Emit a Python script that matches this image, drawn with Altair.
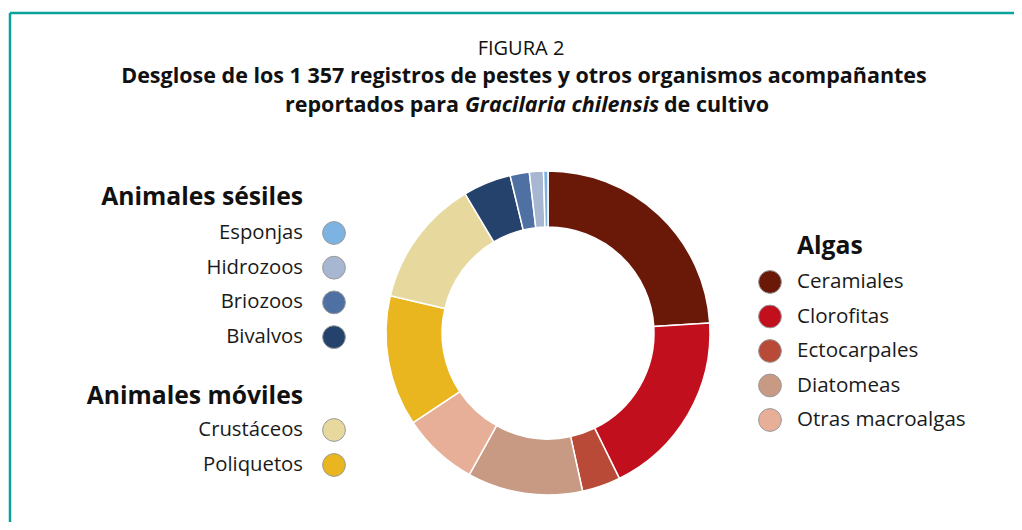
import altair as alt
import pandas as pd

# ---- data ----
categories = ["Ceramiales", "Clorofitas", "Ectocarpales", "Diatomeas", "Otras macroalgas",
              "Poliquetos", "Crustáceos", "Bivalvos", "Briozoos", "Hidrozoos", "Esponjas"]
counts = [326, 254, 52, 156, 103, 177, 173, 65, 26, 19, 6]
colors = ["#6a1808", "#c20f1d", "#b94a38", "#c99a83", "#e7af98",
          "#e9b61f", "#e7d99d", "#24426c", "#4f70a3", "#a8b7d1", "#7db3e3"]

sesiles = ["Esponjas", "Hidrozoos", "Briozoos", "Bivalvos"]
moviles = ["Crustáceos", "Poliquetos"]
algas = ["Ceramiales", "Clorofitas", "Ectocarpales", "Diatomeas", "Otras macroalgas"]
headers = ["Animales sésiles", "Animales móviles", "Algas"]

FONT = "Open Sans"
TEAL = "#0aa39a"

df = pd.DataFrame({"cat": categories, "count": counts, "idx": list(range(len(categories)))})
one = pd.DataFrame({"k": [0]})
color_scale = alt.Scale(domain=categories, range=colors)

# donut
donut = alt.Chart(df).mark_arc(innerRadius=106, outerRadius=162, stroke="white",
                               strokeWidth=1.5).encode(
    theta=alt.Theta("count:Q", stack=True),
    color=alt.Color("cat:N", scale=color_scale, legend=None),
    order=alt.Order("idx:Q"),
    x=alt.value(540), y=alt.value(325),
)

# legend rows (layout)
rows = []
for i, c in enumerate(sesiles):
    rows.append({"cat": c, "px": 326, "py": 225 + i * 34.7, "side": "L"})
for i, c in enumerate(moviles):
    rows.append({"cat": c, "px": 326, "py": 422 + i * 35, "side": "L"})
for i, c in enumerate(algas):
    rows.append({"cat": c, "px": 762, "py": 274 + i * 34.5, "side": "R"})
leg = pd.DataFrame(rows)

dots = alt.Chart(leg).mark_circle(size=520, opacity=1, stroke="#9a9a9a", strokeWidth=1).encode(
    x=alt.X("px:Q", scale=None, axis=None),
    y=alt.Y("py:Q", scale=None, axis=None),
    color=alt.Color("cat:N", scale=color_scale, legend=None),
)
left_labels = alt.Chart(leg[leg.side == "L"]).mark_text(
    align="right", baseline="middle", font=FONT, fontSize=20.3, color="#1a1a1a").encode(
    x=alt.X("px:Q", scale=None, axis=None),
    y=alt.Y("py:Q", scale=None, axis=None),
    text="cat:N",
).transform_calculate(px="datum.px - 31")
right_labels = alt.Chart(leg[leg.side == "R"]).mark_text(
    align="left", baseline="middle", font=FONT, fontSize=20.6, color="#1a1a1a").encode(
    x=alt.X("px:Q", scale=None, axis=None),
    y=alt.Y("py:Q", scale=None, axis=None),
    text="cat:N",
).transform_calculate(px="datum.px + 27")

hdr = pd.DataFrame({"t": headers, "hx": [295, 295, 789], "hy": [190, 389, 239],
                    "al": ["right", "right", "left"]})
hdr_left = alt.Chart(hdr[hdr.al == "right"]).mark_text(
    align="right", baseline="middle", font=FONT, fontSize=24.7, fontWeight="bold", color="#111").encode(
    x=alt.X("hx:Q", scale=None, axis=None), y=alt.Y("hy:Q", scale=None, axis=None), text="t:N")
hdr_right = alt.Chart(hdr[hdr.al == "left"]).mark_text(
    align="left", baseline="middle", font=FONT, fontSize=24.7, fontWeight="bold", color="#111").encode(
    x=alt.X("hx:Q", scale=None, axis=None), y=alt.Y("hy:Q", scale=None, axis=None), text="t:N")

# titles
def txt(s, x, y, size, weight="normal", style="normal", align="center"):
    return alt.Chart(one).mark_text(text=s, align=align, baseline="middle", font=FONT,
                                    fontSize=size, fontWeight=weight, fontStyle=style,
                                    color="#111").encode(x=alt.value(x), y=alt.value(y))

t1 = txt("FIGURA 2", 513, 41, 20)
t2 = txt("Desglose de los 1 357 registros de pestes y otros organismos acompañantes", 516, 69, 21.5, "bold")
t3a = txt("reportados para", 451, 98, 21.5, "bold", align="right")
t3b = txt("Gracilaria chilensis", 457, 98, 21.5, "bold", "italic", align="left")
t3c = txt("de cultivo", 656, 98, 21.5, "bold", align="left")

# frame
top = alt.Chart(one).mark_rule(color=TEAL, strokeWidth=2.5).encode(
    x=alt.value(2), x2=alt.value(1006), y=alt.value(5))
left = alt.Chart(one).mark_rule(color=TEAL, strokeWidth=2.5).encode(
    x=alt.value(2), y=alt.value(5), y2=alt.value(514))

chart = alt.layer(top, left, donut, dots, left_labels, right_labels, hdr_left, hdr_right,
                  t1, t2, t3a, t3b, t3c).properties(
    width=1006, height=514,
    autosize=alt.AutoSizeParams(type="fit", contains="padding"),
    padding=0, background="white",
).configure_view(stroke=None)

chart.save("out.html", embed_options={"renderer": "svg", "actions": False})
